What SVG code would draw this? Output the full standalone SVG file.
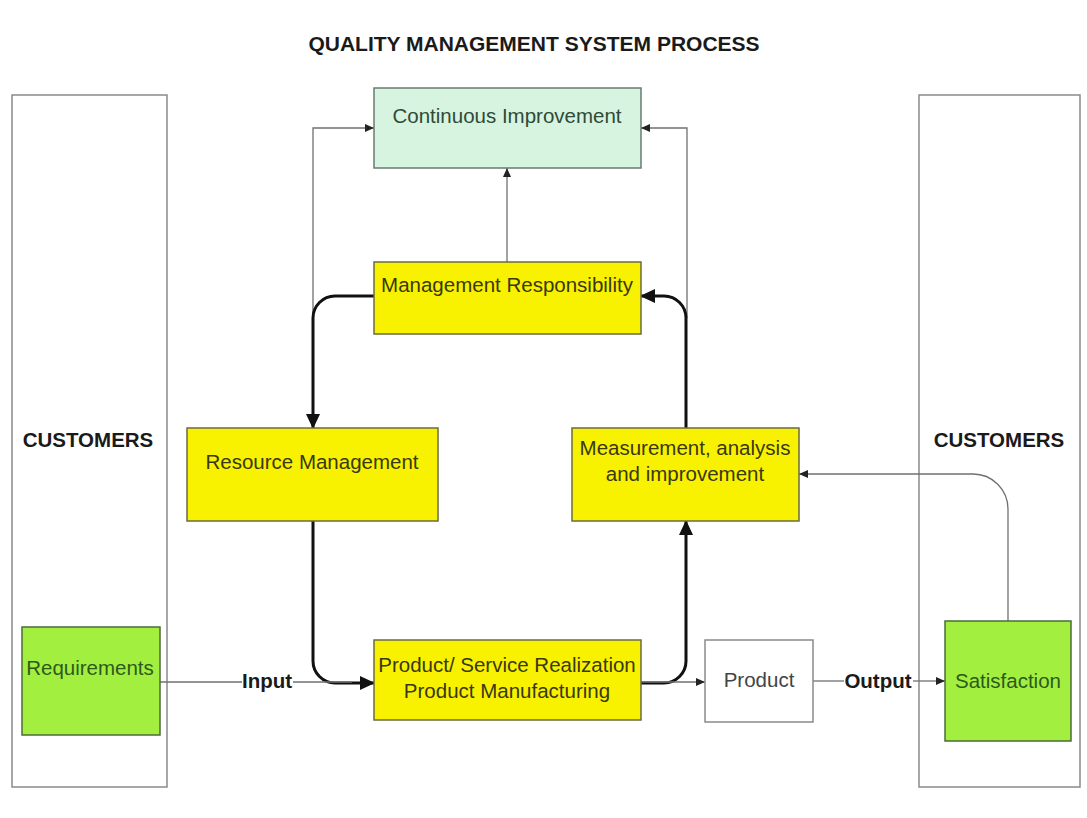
<svg xmlns="http://www.w3.org/2000/svg" width="1087" height="818" viewBox="0 0 1087 818">
<style>
text{font-family:"Liberation Sans",Arial,sans-serif;font-size:20.5px;text-anchor:middle}
.title{font-weight:bold;fill:#1a1a1a;font-size:21px}
.bold{font-weight:bold;fill:#1a1a1a}
.panel{fill:#fff;stroke:#8a8a8a;stroke-width:1.5}
.yel{fill:#f8f200;stroke:#6b6b40;stroke-width:1.5}
.yt{fill:#3a3812}
.grn{fill:#a3ef3f;stroke:#4d6b3a;stroke-width:1.5}
.gt{fill:#2c5a1c}
.mint{fill:#d6f4df;stroke:#6a7a70;stroke-width:1.5}
.mt{fill:#2f4a38}
.wht{fill:#fff;stroke:#8a8a8a;stroke-width:1.5}
.wt{fill:#444}
.thick{fill:none;stroke:#111;stroke-width:3}
.thin{fill:none;stroke:#707070;stroke-width:1.3}
</style>
<defs>
<marker id="big" markerUnits="userSpaceOnUse" markerWidth="16" markerHeight="14" refX="14" refY="7" orient="auto">
<path d="M0,0 L15,7 L0,14 Z" fill="#111"/>
</marker>
<marker id="small" markerUnits="userSpaceOnUse" markerWidth="10" markerHeight="8" refX="9" refY="4" orient="auto">
<path d="M0,0 L9,4 L0,8 Z" fill="#222"/>
</marker>
</defs>
<rect width="1087" height="818" fill="#fff"/>
<text class="title" x="534" y="51">QUALITY MANAGEMENT SYSTEM PROCESS</text>

<g id="customers-left">
<rect class="panel" x="12" y="95" width="155" height="692"/>
<text class="bold" x="88" y="447">CUSTOMERS</text>
</g>
<g id="customers-right">
<rect class="panel" x="919" y="95" width="161" height="692"/>
<text class="bold" x="999" y="447">CUSTOMERS</text>
</g>

<g id="connectors">
<path class="thin" d="M313,318 V128 H374" marker-end="url(#small)"/>
<path class="thin" d="M687,318 V128 H641" marker-end="url(#small)"/>
<path class="thin" d="M507,262 V168" marker-end="url(#small)"/>
<path class="thick" d="M374,296 H335 A22,22 0 0 0 313,318 V428" marker-end="url(#big)"/>
<path class="thick" d="M313,521 V661 A22,22 0 0 0 335,683 H374" marker-end="url(#big)"/>
<path class="thick" d="M641,683 H664 A22,22 0 0 0 686,661 V521" marker-end="url(#big)"/>
<path class="thick" d="M686,428 V318 A22,22 0 0 0 664,296 H641" marker-end="url(#big)"/>
<path class="thin" d="M160,682 H242"/>
<path class="thin" d="M293,682 H352"/>
<path class="thin" d="M641,682 H705" marker-end="url(#small)"/>
<path class="thin" d="M813,681 H844"/>
<path class="thin" d="M913,681 H945" marker-end="url(#small)"/>
<path class="thin" d="M1008,621 V509 A35,35 0 0 0 973,474 H799" marker-end="url(#small)"/>
<text class="bold" x="267" y="688">Input</text>
<text class="bold" x="878" y="688">Output</text>
</g>

<g id="continuous-improvement">
<rect class="mint" x="374" y="88" width="267" height="80"/>
<text class="mt" x="507" y="123">Continuous Improvement</text>
</g>
<g id="management-responsibility">
<rect class="yel" x="374" y="262" width="267" height="72"/>
<text class="yt" x="507" y="292">Management Responsibility</text>
</g>
<g id="resource-management">
<rect class="yel" x="187" y="428" width="251" height="93"/>
<text class="yt" x="312" y="469">Resource Management</text>
</g>
<g id="measurement">
<rect class="yel" x="572" y="428" width="227" height="93"/>
<text class="yt" x="685" y="455">Measurement, analysis</text>
<text class="yt" x="685" y="481">and improvement</text>
</g>
<g id="product-realization">
<rect class="yel" x="374" y="640" width="267" height="80"/>
<text class="yt" x="507" y="672">Product/ Service Realization</text>
<text class="yt" x="507" y="698">Product Manufacturing</text>
</g>
<g id="product">
<rect class="wht" x="705" y="640" width="108" height="82"/>
<text class="wt" x="759" y="687">Product</text>
</g>
<g id="requirements">
<rect class="grn" x="22" y="627" width="138" height="108"/>
<text class="gt" x="90" y="675">Requirements</text>
</g>
<g id="satisfaction">
<rect class="grn" x="945" y="621" width="126" height="120"/>
<text class="gt" x="1008" y="688">Satisfaction</text>
</g>
</svg>
